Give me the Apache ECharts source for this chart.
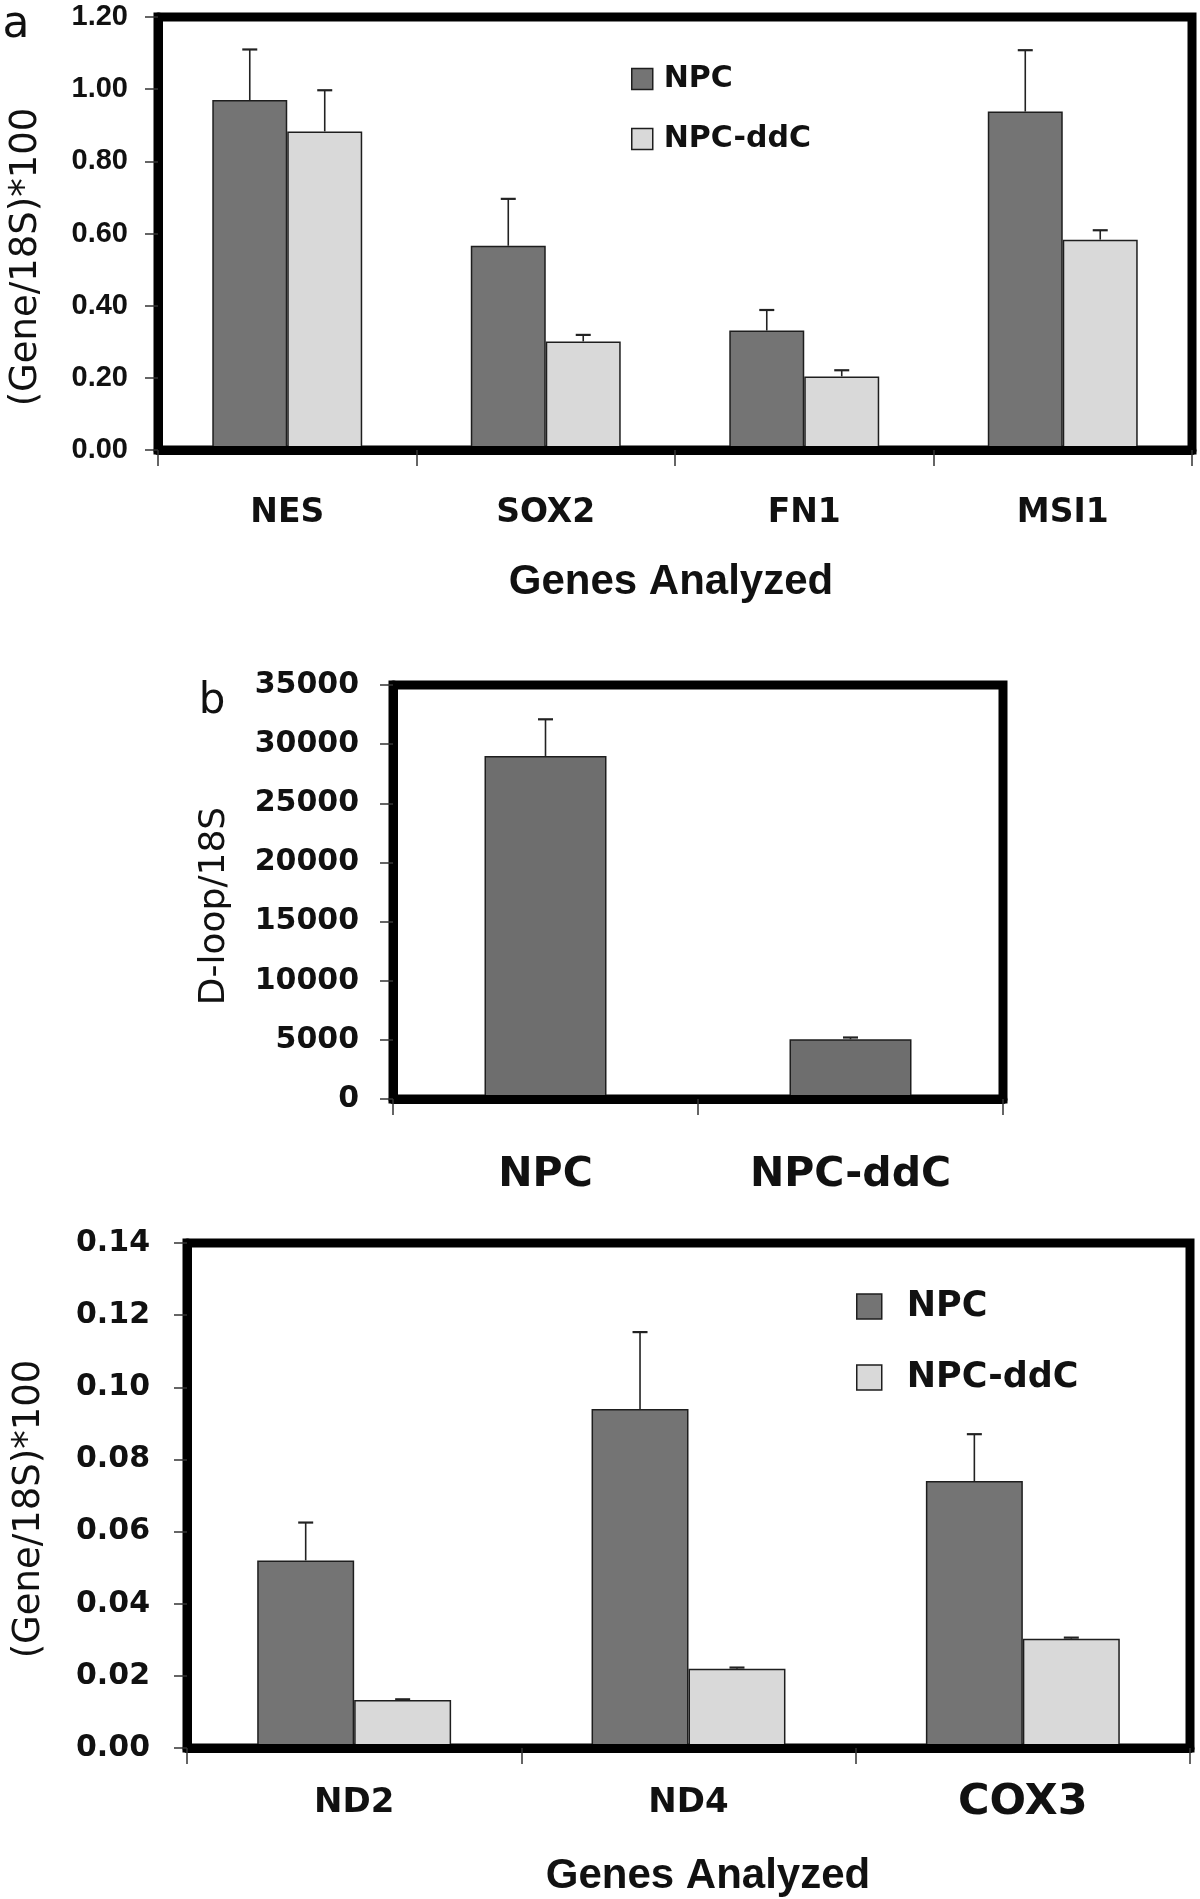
<!DOCTYPE html>
<html>
<head>
<meta charset="utf-8">
<script src="https://cdn.jsdelivr.net/npm/echarts@6/dist/echarts.min.js"></script>
<style>
html,body{margin:0;padding:0;background:#fff;}
#chart{width:1200px;height:1899px;}
</style>
</head>
<body>
<div id="chart"></div>
<script>
// ---------- DATA ----------
// Panel a
const genesA = ['NES', 'SOX2', 'FN1', 'MSI1'];
const npcA = [0.970, 0.566, 0.331, 0.938];
const npcAErrTop = [1.110, 0.696, 0.388, 1.108];
const ddcA = [0.883, 0.301, 0.204, 0.583];
const ddcAErrTop = [0.997, 0.319, 0.221, 0.609];
const yRangeA = [0, 1.2, 0.2];
// Panel b
const groupsB = ['NPC', 'NPC-ddC'];
const dloopB = [29000, 5050];
const dloopBErrTop = [32100, 5200];
const yRangeB = [0, 35000, 5000];
// Panel c
const genesC = ['ND2', 'ND4', 'COX3'];
const npcC = [0.052, 0.094, 0.074];
const npcCErrTop = [0.0625, 0.1153, 0.087];
const ddcC = [0.0133, 0.022, 0.0303];
const ddcCErrTop = [0.0135, 0.0223, 0.0306];
const yRangeC = [0, 0.14, 0.02];
const seriesNames = ['NPC', 'NPC-ddC'];

// ---------- STYLE ----------
const DARK = '#747474';
const LIGHT = '#d9d9d9';
const DARK_B = '#6e6e6e';
const EDGE = '#1e1e1e';
const FRAME = 9;
const BW_AC = 0.29;
const BW_B = 0.40;

function errRender(frac) {
  return function (params, api) {
    const cat = api.value(0), v = api.value(1), e = api.value(2), off = api.value(3);
    const base = api.coord([cat, v]);
    const top = api.coord([cat, e]);
    const bw = api.size([1, 0])[0] * frac;
    const x = base[0] + off * bw;
    const cap = 7.5;
    return {
      type: 'group',
      children: [
        {type: 'line', shape: {x1: x, y1: base[1], x2: x, y2: top[1]}, style: {stroke: '#222', lineWidth: 1.6}},
        {type: 'line', shape: {x1: x - cap, y1: top[1], x2: x + cap, y2: top[1]}, style: {stroke: '#222', lineWidth: 2.2}}
      ]
    };
  };
}

function xAxisCfg(grid, data, fontSize, margin) {
  return {
    type: 'category', gridIndex: grid, data: data, z: 5,
    axisLine: {lineStyle: {color: '#000', width: FRAME}},
    axisTick: {show: true, alignWithLabel: false, length: 16, lineStyle: {color: '#333', width: 1.5}},
    axisLabel: {fontFamily: 'DejaVu Sans', fontWeight: 'bold', fontSize: fontSize, color: '#111',
      margin: margin, verticalAlign: 'middle', interval: 0},
    splitLine: {show: false}
  };
}
function yAxisCfg(grid, range, decimals, family, fontSize, margin) {
  return {
    type: 'value', gridIndex: grid, min: range[0], max: range[1], interval: range[2], z: 5,
    axisLine: {show: true, lineStyle: {color: '#000', width: FRAME}},
    axisTick: {show: true, length: 13, lineStyle: {color: '#333', width: 1.5}},
    axisLabel: {fontFamily: family, fontWeight: 'bold', fontSize: fontSize, color: '#111',
      margin: margin, formatter: function (v) { return v.toFixed(decimals); }},
    splitLine: {show: false}
  };
}
function barSeries(name, xi, data, color) {
  return {
    type: 'bar', name: name, xAxisIndex: xi, yAxisIndex: xi, data: data,
    barWidth: (xi === 1 ? BW_B : BW_AC) * 100 + '%', barGap: '0%',
    itemStyle: {color: color, borderColor: EDGE, borderWidth: 1.5},
    silent: true, z: 2
  };
}

const errA = genesA.map((g, i) => [i, npcA[i], npcAErrTop[i], -0.5])
  .concat(genesA.map((g, i) => [i, ddcA[i], ddcAErrTop[i], 0.5]));
const errB = groupsB.map((g, i) => [i, dloopB[i], dloopBErrTop[i], 0]);
const errC = genesC.map((g, i) => [i, npcC[i], npcCErrTop[i], -0.5])
  .concat(genesC.map((g, i) => [i, ddcC[i], ddcCErrTop[i], 0.5]));

const labelsC = genesC.map(g => g === 'COX3'
  ? {value: g, textStyle: {fontSize: 43, fontFamily: 'DejaVu Sans', fontWeight: 'bold', verticalAlign: 'middle'}}
  : g);

const titleFont = '37px "DejaVu Sans"';
const chart = echarts.init(document.getElementById('chart'), null, {renderer: 'canvas'});
chart.setOption({
  backgroundColor: '#fff',
  animation: false,
  grid: [
    {left: 158, top: 17, width: 1034, height: 433, show: true, borderColor: '#000', borderWidth: FRAME, backgroundColor: 'transparent'},
    {left: 393, top: 685, width: 610, height: 414, show: true, borderColor: '#000', borderWidth: FRAME, backgroundColor: 'transparent'},
    {left: 187, top: 1243, width: 1003, height: 505, show: true, borderColor: '#000', borderWidth: FRAME, backgroundColor: 'transparent'}
  ],
  xAxis: [
    xAxisCfg(0, genesA, 33, 63),
    xAxisCfg(1, groupsB, 41, 76),
    xAxisCfg(2, labelsC, 34, 55)
  ],
  yAxis: [
    yAxisCfg(0, yRangeA, 2, 'Liberation Sans', 29, 30),
    yAxisCfg(1, yRangeB, 0, 'DejaVu Sans', 30, 34),
    yAxisCfg(2, yRangeC, 2, 'DejaVu Sans', 30, 37)
  ],
  legend: [
    {data: seriesNames, orient: 'vertical', left: 626, top: 59, padding: 5, itemWidth: 21, itemHeight: 21, itemGap: 30,
      icon: 'rect', selectedMode: false,
      itemStyle: {borderColor: EDGE, borderWidth: 1.5},
      textStyle: {fontFamily: 'DejaVu Sans', fontWeight: 'bold', fontSize: 30, lineHeight: 30, color: '#111', padding: [0, 0, 0, 6]}},
    {data: seriesNames, orient: 'vertical', left: 851, top: 1284, padding: 5, itemWidth: 25, itemHeight: 25, itemGap: 36,
      icon: 'rect', selectedMode: false,
      itemStyle: {borderColor: EDGE, borderWidth: 1.5},
      textStyle: {fontFamily: 'DejaVu Sans', fontWeight: 'bold', fontSize: 35, lineHeight: 35, color: '#111', padding: [0, 0, 0, 20]}}
  ],
  series: [
    barSeries(seriesNames[0], 0, npcA, DARK),
    barSeries(seriesNames[1], 0, ddcA, LIGHT),
    {type: 'custom', xAxisIndex: 0, yAxisIndex: 0, data: errA, renderItem: errRender(BW_AC), z: 4, silent: true},
    barSeries('D-loop/18S', 1, dloopB, DARK_B),
    {type: 'custom', xAxisIndex: 1, yAxisIndex: 1, data: errB, renderItem: errRender(BW_B), z: 4, silent: true},
    barSeries(seriesNames[0], 2, npcC, DARK),
    barSeries(seriesNames[1], 2, ddcC, LIGHT),
    {type: 'custom', xAxisIndex: 2, yAxisIndex: 2, data: errC, renderItem: errRender(BW_AC), z: 4, silent: true}
  ],
  graphic: [
    {type: 'text', x: 16, y: 26, style: {text: 'a', font: '44px "DejaVu Sans"', fill: '#111', align: 'center', verticalAlign: 'middle', textAlign: 'center', textVerticalAlign: 'middle'}},
    {type: 'text', x: 212, y: 702, style: {text: 'b', font: '42px "DejaVu Sans"', fill: '#111', align: 'center', verticalAlign: 'middle', textAlign: 'center', textVerticalAlign: 'middle'}},
    {type: 'text', x: 26, y: 257, rotation: Math.PI / 2, style: {text: '(Gene/18S)*100', font: titleFont, fill: '#111', align: 'center', verticalAlign: 'middle', textAlign: 'center', textVerticalAlign: 'middle'}},
    {type: 'text', x: 215, y: 906, rotation: Math.PI / 2, style: {text: 'D-loop/18S', font: '36px "DejaVu Sans"', fill: '#111', align: 'center', verticalAlign: 'middle', textAlign: 'center', textVerticalAlign: 'middle'}},
    {type: 'text', x: 29, y: 1509, rotation: Math.PI / 2, style: {text: '(Gene/18S)*100', font: titleFont, fill: '#111', align: 'center', verticalAlign: 'middle', textAlign: 'center', textVerticalAlign: 'middle'}},
    {type: 'text', x: 671, y: 582, style: {text: 'Genes Analyzed', font: 'bold 42px "Liberation Sans"', fill: '#111', align: 'center', verticalAlign: 'middle', textAlign: 'center', textVerticalAlign: 'middle'}},
    {type: 'text', x: 708, y: 1876, style: {text: 'Genes Analyzed', font: 'bold 42px "Liberation Sans"', fill: '#111', align: 'center', verticalAlign: 'middle', textAlign: 'center', textVerticalAlign: 'middle'}}
  ]
});
</script>
</body>
</html>
